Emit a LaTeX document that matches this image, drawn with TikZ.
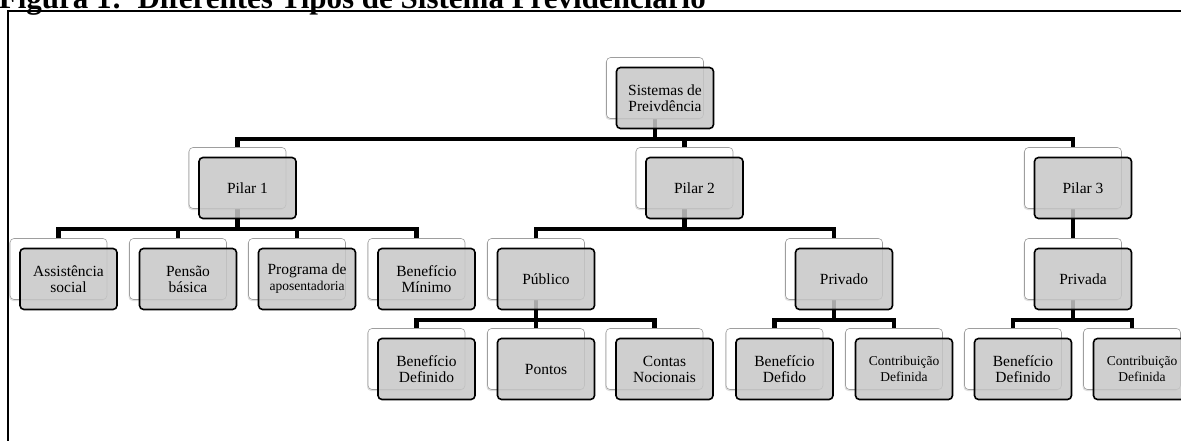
\documentclass[tikz,border=0pt]{standalone}
\usepackage{fontspec}
\setmainfont{Liberation Serif}
\usetikzlibrary{shadows,backgrounds}
\newcommand{\menor}{\fontsize{13.5}{14}\selectfont}
\tikzset{
  fundo/.style={draw=black!38,line width=.6pt,fill=white,rounded corners=4pt,
    minimum width=97pt,minimum height=61pt,inner sep=0pt,
    drop shadow={opacity=.25,shadow xshift=-1pt,shadow yshift=-1.5pt}},
  caixa/.style={draw=black,line width=1.6pt,fill=black!22,fill opacity=.85,text opacity=1,
    rounded corners=4pt,minimum width=97pt,minimum height=61pt,inner sep=2pt,
    align=center,font=\fontsize{15.5}{16}\selectfont},
  liga/.style={line width=4.5pt}
}
\begin{document}
\begin{tikzpicture}[x=1pt,y=-1pt]
  \useasboundingbox (0,0) rectangle (1181,441);
  % titulo e moldura
  \node[anchor=base east,inner sep=0pt,font=\fontsize{31}{36}\selectfont\bfseries] (titulo) at (706,8.5)
    {Figura 1:\ \ Diferentes Tipos de Sistema Previdenciário};
  \draw[line width=1.5pt] (8,460) -- (8,11) -- (1200,11);
  % caixas: fundo branco e frente cinza
  \foreach \nome/\px/\py/\texto in {
      raiz/655/88/{Sistemas de\\Preivdência},
      p1/237.5/178/{Pilar 1}, p2/684.5/178/{Pilar 2}, p3/1073/178/{Pilar 3},
      assist/58.5/269/{Assistência\\social}, pensao/178/269/{Pensão\\básica},
      progr/297/269/{Programa de\\{\menor aposentadoria}}, bmin/416.5/269/{Benefício\\Mínimo},
      publ/536/269/{Público}, priv/834/269/{Privado}, privada/1073/269/{Privada},
      bdef/416.5/359/{Benefício\\Definido}, pontos/536/359/{Pontos},
      contas/654.5/359/{Contas\\Nocionais}, bdefido/774.5/359/{Benefício\\Defido},
      cdef/894/359/{{\menor Contribuição}\\{\menor Definida}},
      bdef3/1013/359/{Benefício\\Definido},
      cdef3/1132/359/{{\menor Contribuição}\\{\menor Definida}}}
  {
    \node[fundo] (f\nome) at (\px,\py) {};
    \node[caixa] (\nome) at ([shift={(10,10)}]f\nome) {\texto};
  }
  % ligacoes
  \begin{pgfonlayer}{background}
    \foreach \pai/\filho in {raiz/p1, raiz/p2, raiz/p3,
        p1/assist, p1/pensao, p1/progr, p1/bmin,
        p2/publ, p2/priv, p3/privada,
        publ/bdef, publ/pontos, publ/contas,
        priv/bdefido, priv/cdef, privada/bdef3, privada/cdef3}
      \draw[liga] (f\pai.south) -- ++(0,20) -| (f\filho.north);
  \end{pgfonlayer}
\end{tikzpicture}
\end{document}
